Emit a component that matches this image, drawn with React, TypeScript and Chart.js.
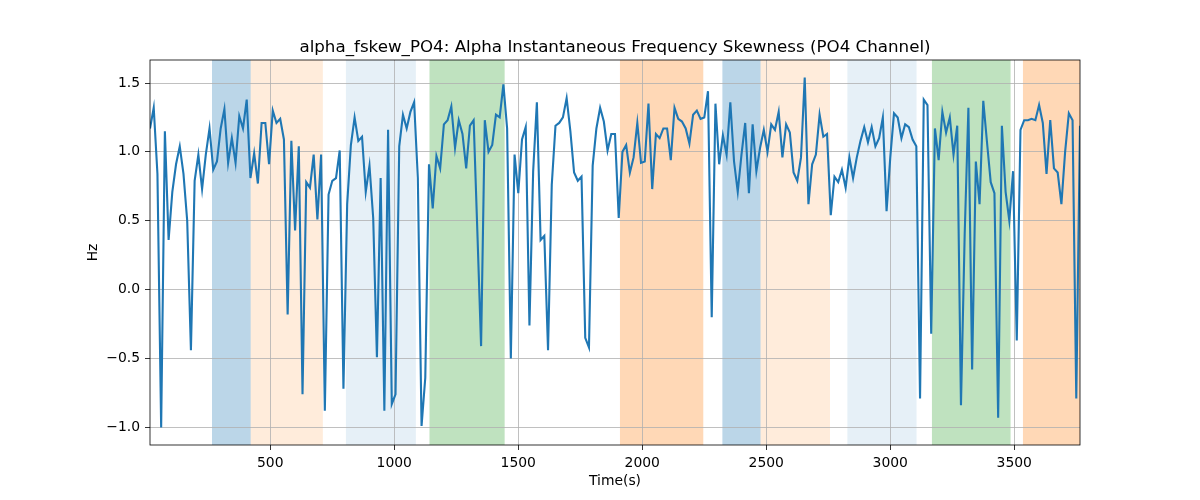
import React, { useEffect, useRef } from "react";
import { Chart, registerables } from "chart.js";

Chart.register(...registerables);

const TITLE = "alpha_fskew_PO4: Alpha Instantaneous Frequency Skewness (PO4 Channel)";
const X_LABEL = "Time(s)";
const Y_LABEL = "Hz";

// sampling grid of the series (seconds)
const T_START = 15;
const T_STEP = 15;

// skewness values (Hz)
const values: number[] = [
  1.17, 1.32, 0.84, -1.0, 1.15, 0.36, 0.71, 0.91, 1.04, 0.84, 0.5, -0.44, 0.79, 0.98, 0.73, 0.98, 1.17, 0.87, 0.93, 1.17, 1.31, 0.92,
  1.10, 0.92, 1.26, 1.17, 1.38, 0.81, 0.99, 0.77, 1.21, 1.21, 0.91, 1.30, 1.21, 1.24, 1.09, -0.18, 1.08, 0.43, 1.04, -0.76, 0.78,
  0.74, 0.98, 0.51, 0.98, -0.88, 0.69, 0.79, 0.81, 1.01, -0.72, 0.62, 1.05, 1.25, 1.08, 1.11, 0.71, 0.90, 0.52, -0.49, 0.81, -0.88,
  1.16, -0.83, -0.76, 1.04, 1.27, 1.17, 1.29, 1.36, 0.81, -0.99, -0.64, 0.91, 0.59, 0.97, 0.88, 1.20, 1.23, 1.33, 1.03, 1.23, 1.13,
  0.88, 1.19, 1.23, 0.42, -0.41, 1.23, 1.0, 1.05, 1.27, 1.25, 1.49, 1.17, -0.50, 0.98, 0.70, 1.09, 1.18, -0.26, 0.86, 1.36, 0.36,
  0.39, -0.44, 0.76, 1.19, 1.21, 1.25, 1.39, 1.15, 0.85, 0.79, 0.82, -0.35, -0.42, 0.90, 1.17, 1.32, 1.22, 1.01, 1.13, 1.13, 0.52,
  1.0, 1.05, 0.85, 0.96, 1.21, 0.92, 0.93, 1.35, 0.73, 1.13, 1.10, 1.17, 1.17, 0.94, 1.32, 1.24, 1.22, 1.17, 1.06, 1.27, 1.30,
  1.24, 1.25, 1.44, -0.20, 1.35, 0.91, 1.12, 0.98, 1.36, 0.93, 0.71, 0.98, 1.21, 0.70, 1.20, 0.86, 1.03, 1.16, 1.0, 1.20, 1.16,
  1.29, 0.96, 1.20, 1.14, 0.85, 0.79, 0.96, 1.54, 0.62, 0.91, 0.98, 1.27, 1.11, 1.13, 0.54, 0.82, 0.78, 0.87, 0.74, 0.96, 0.81,
  0.96, 1.08, 1.18, 1.07, 1.18, 1.04, 1.10, 1.25, 0.57, 0.96, 1.28, 1.25, 1.10, 1.20, 1.18, 1.09, 1.04, -0.79, 1.38, 1.34,
  -0.32, 1.17, 0.94, 1.29, 1.14, 1.25, 0.98, 1.19, -0.84, 0.4, 1.32, -0.58, 0.93, 0.62, 1.37, 1.07, 0.78, 0.70, -0.93, 1.19, 0.71,
  0.50, 0.86, -0.37, 1.16, 1.23, 1.23, 1.24, 1.23, 1.34, 1.21, 0.84, 1.23, 0.88, 0.85, 0.62, 1.0, 1.28, 1.23, -0.79, 1.19,
];

const xTicks = [500, 1000, 1500, 2000, 2500, 3000, 3500];
const yTicks = [-1.0, -0.5, 0.0, 0.5, 1.0, 1.5];

// shaded intervals
const spanStarts = [265, 421, 805, 1142, 1910, 2323, 2477, 2827, 3168, 3535];
const spanEnds = [421, 712, 1087, 1445, 2246, 2477, 2757, 3106, 3485, 3800];
const spanColors = [
  "rgba(31,119,180,0.3)",
  "rgba(255,127,14,0.15)",
  "rgba(31,119,180,0.11)",
  "rgba(44,160,44,0.3)",
  "rgba(255,127,14,0.3)",
  "rgba(31,119,180,0.3)",
  "rgba(255,127,14,0.15)",
  "rgba(31,119,180,0.11)",
  "rgba(44,160,44,0.3)",
  "rgba(255,127,14,0.3)",
];

const X_MIN = 15;
const X_MAX = 3765;
const Y_MIN = -1.128;
const Y_MAX = 1.667;

const FONT = "'DejaVu Sans', 'Liberation Sans', sans-serif";

const fmtY = (v: number) => v.toFixed(1).replace("-", "\u2212");

export default function App() {
  const canvasRef = useRef<HTMLCanvasElement | null>(null);

  useEffect(() => {
    const canvas = canvasRef.current;
    if (!canvas) return;

    const times = values.map((_, i) => T_START + i * T_STEP);
    const points = values.map((v, i) => ({ x: times[i], y: v }));

    const decor = {
      id: "decor",
      beforeDraw(chart: any) {
        const { ctx, chartArea, scales } = chart;
        const { left, right, top, bottom } = chartArea;
        ctx.save();
        ctx.fillStyle = "#ffffff";
        ctx.fillRect(0, 0, chart.width, chart.height);
        ctx.beginPath();
        ctx.rect(left, top, right - left, bottom - top);
        ctx.clip();
        for (let i = 0; i < spanStarts.length; i++) {
          const x0 = scales.x.getPixelForValue(spanStarts[i]);
          const x1 = scales.x.getPixelForValue(spanEnds[i]);
          ctx.fillStyle = spanColors[i];
          ctx.fillRect(x0, top, x1 - x0, bottom - top);
        }
        ctx.restore();
      },
      afterDraw(chart: any) {
        const { ctx, chartArea } = chart;
        const { left, right, top, bottom } = chartArea;
        ctx.save();
        ctx.strokeStyle = "#000000";
        ctx.lineWidth = 0.8;
        ctx.strokeRect(left, top, right - left, bottom - top);
        ctx.fillStyle = "#000000";
        ctx.font = `16.7px ${FONT}`;
        ctx.textAlign = "center";
        ctx.textBaseline = "alphabetic";
        ctx.fillText(TITLE, (left + right) / 2, top - 8.3);
        ctx.restore();
      },
    };

    const tickFont = { family: FONT, size: 13.9 };

    const chart = new Chart(canvas, {
      type: "line",
      data: {
        datasets: [
          {
            data: points,
            borderColor: "#1f77b4",
            borderWidth: 2.1,
            pointRadius: 0,
            tension: 0,
            fill: false,
          },
        ],
      },
      options: {
        responsive: false,
        animation: false,
        devicePixelRatio: 1,
        layout: { padding: { left: 0, right: 120, top: 60, bottom: 0 } },
        plugins: {
          legend: { display: false },
          tooltip: { enabled: false },
          title: { display: false },
        },
        scales: {
          x: {
            type: "linear",
            min: X_MIN,
            max: X_MAX,
            afterBuildTicks: (s: any) => {
              s.ticks = xTicks.map((v) => ({ value: v }));
            },
            afterFit: (s: any) => {
              s.height = 55;
            },
            grid: {
              color: "#b0b0b0",
              lineWidth: 0.8,
              tickColor: "#000000",
              tickLength: 5,
              drawTicks: true,
            },
            border: { display: false },
            ticks: {
              color: "#000000",
              font: tickFont,
              padding: 5,
              maxRotation: 0,
              autoSkip: false,
              callback: (v: any) => String(v),
            },
            title: {
              display: true,
              text: X_LABEL,
              color: "#000000",
              font: tickFont,
              padding: { top: 0, bottom: 10.6 },
            },
          },
          y: {
            type: "linear",
            min: Y_MIN,
            max: Y_MAX,
            afterBuildTicks: (s: any) => {
              s.ticks = yTicks.map((v) => ({ value: v }));
            },
            afterFit: (s: any) => {
              s.width = 150;
            },
            grid: {
              color: "#b0b0b0",
              lineWidth: 0.8,
              tickColor: "#000000",
              tickLength: 5,
              drawTicks: true,
            },
            border: { display: false },
            ticks: {
              color: "#000000",
              font: tickFont,
              padding: 5,
              autoSkip: false,
              callback: (v: any) => fmtY(Number(v)),
            },
            title: {
              display: true,
              text: Y_LABEL,
              color: "#000000",
              font: tickFont,
              padding: { top: 85, bottom: 0 },
            },
          },
        },
      },
      plugins: [decor],
    } as any);

    return () => {
      chart.destroy();
    };
  }, []);

  return (
    <div style={{ position: "absolute", left: 0, top: 0, width: 1200, height: 500 }}>
      <canvas ref={canvasRef} width={1200} height={500} style={{ display: "block" }} />
    </div>
  );
}
